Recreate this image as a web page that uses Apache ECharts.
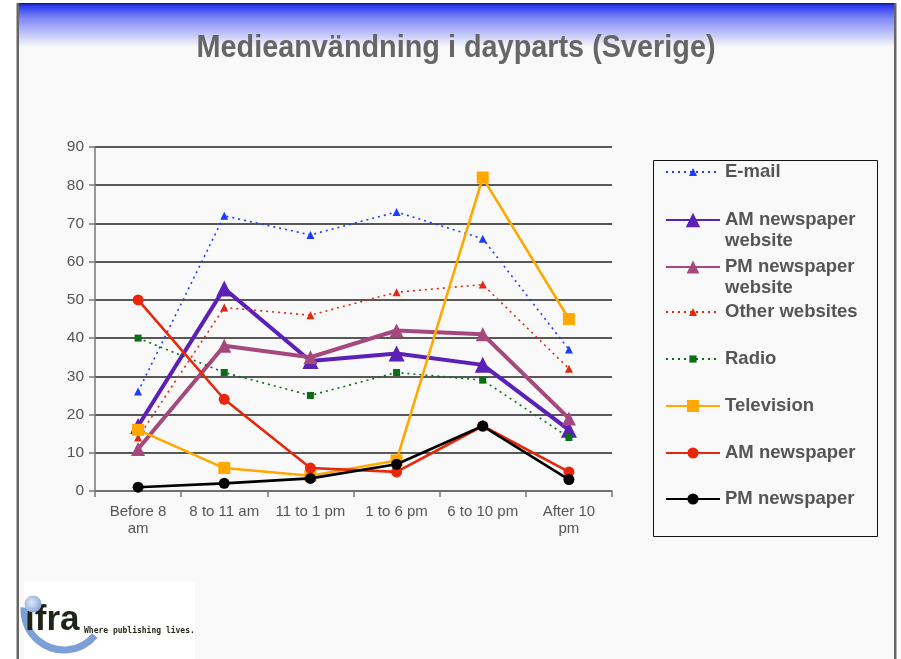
<!DOCTYPE html>
<html>
<head>
<meta charset="utf-8">
<title>Medieanvändning i dayparts (Sverige)</title>
<script src="https://cdn.jsdelivr.net/npm/echarts@6/dist/echarts.min.js"></script>
<style>
    body { margin: 0; background: #fff; }
    #lineCharts { width: 901px; height: 659px; }
</style>
</head>
<body>
<div id="lineCharts"></div>
<script>
// 数据
var categories = ['Before 8\nam', '8 to 11 am', '11 to 1 pm', '1 to 6 pm', '6 to 10 pm', 'After 10\npm'];
var yTicks = [0, 10, 20, 30, 40, 50, 60, 70, 80, 90];

var email = [26, 72, 67, 73, 66, 37];
var amWebsite = [17, 53, 34, 36, 33, 16];
var pmWebsite = [11, 38, 35, 42, 41, 19];
var otherWebsites = [14, 48, 46, 52, 54, 32];
var radio = [40, 31, 25, 31, 29, 14];
var television = [16, 6, 4, 8, 82, 45];
var amNewspaper = [50, 24, 6, 5, 17, 5];
var pmNewspaper = [1, 2, 3.3, 7, 17, 3];

var lineCharts = function () {
    var myChart = echarts.init(document.getElementById('lineCharts'));

    // 每条线的样式
    var lines = [
        {name: 'E-mail', data: email, color: '#1c3cff', width: 1.6, dot: true, symbol: 'triangle', size: 8, legendTop: 161.5, legendH: 10},
        {name: 'AM newspaper website', data: amWebsite, color: '#5a20b8', width: 4, dot: false, symbol: 'triangle', size: 16, legendTop: 188.5, legendH: 18},
        {name: 'PM newspaper website', data: pmWebsite, color: '#a4487e', width: 4, dot: false, symbol: 'triangle', size: 14, legendTop: 235.5, legendH: 16},
        {name: 'Other websites', data: otherWebsites, color: '#dd2a10', width: 1.6, dot: true, symbol: 'triangle', size: 8, legendTop: 301.5, legendH: 10},
        {name: 'Radio', data: radio, color: '#0a6e14', width: 1.6, dot: true, symbol: 'rect', size: 7, legendTop: 348.5, legendH: 9},
        {name: 'Television', data: television, color: '#ffa800', width: 2.6, dot: false, symbol: 'rect', size: 12, legendTop: 395.5, legendH: 15},
        {name: 'AM newspaper', data: amNewspaper, color: '#e8260c', width: 2.6, dot: false, symbol: 'circle', size: 11, legendTop: 442.5, legendH: 14},
        {name: 'PM newspaper', data: pmNewspaper, color: '#000000', width: 2.6, dot: false, symbol: 'circle', size: 11, legendTop: 488.5, legendH: 14}
    ];

    var series = [], legends = [];
    lines.forEach(function (item, i) {
        series.push({
            name: item.name,
            type: 'line',
            data: item.data,
            symbol: item.symbol,
            symbolSize: item.size,
            showAllSymbol: true,
            color: item.color,
            lineStyle: {color: item.color, width: item.width, type: item.dot ? [2, 4] : 'solid'},
            itemStyle: {color: item.color},
            emphasis: {disabled: true},
            z: 2 + i
        });
        legends.push({
            left: 665,
            top: item.legendTop,
            itemWidth: 54,
            itemHeight: item.legendH,
            itemGap: 0,
            padding: 0,
            data: [item.name],
            // 两行的图例：前面加一个空行，让图标对齐第一行
            formatter: function (name) {
                if (/ website$/.test(name)) {
                    return '\n' + name.replace(/ website$/, '\nwebsite');
                }
                return name;
            },
            textStyle: {
                color: '#555',
                fontSize: 18.5,
                fontWeight: 'bold',
                lineHeight: 21,
                fontFamily: 'Liberation Sans, Arial, sans-serif'
            }
        });
    });

    var option = {
        backgroundColor: '#fff',
        animation: false,
        legend: legends,
        grid: {left: 95, right: 289, top: 147, bottom: 168},
        xAxis: [{
            type: 'category',
            data: categories,
            boundaryGap: true,
            axisLine: {lineStyle: {color: '#777', width: 1.5}},
            axisTick: {show: true, length: 6, interval: 0, lineStyle: {color: '#777', width: 1.5}},
            axisLabel: {
                interval: 0,
                margin: 12,
                color: '#555',
                fontSize: 15,
                lineHeight: 17,
                fontFamily: 'Liberation Sans, Arial, sans-serif'
            }
        }],
        yAxis: {
            type: 'value',
            min: yTicks[0],
            max: yTicks[yTicks.length - 1],
            interval: yTicks[1] - yTicks[0],
            axisLine: {show: true, lineStyle: {color: '#777', width: 1.5}},
            axisTick: {show: true, length: 6, lineStyle: {color: '#777', width: 1.5}},
            axisLabel: {
                margin: 11,
                color: '#555',
                fontSize: 15.5,
                fontFamily: 'Liberation Sans, Arial, sans-serif'
            },
            splitLine: {lineStyle: {color: '#222', width: 1.6}}
        },
        graphic: [
            // 幻灯片背景
            {type: 'rect', z: -20, shape: {x: 18, y: 3, width: 877, height: 660}, style: {fill: '#f9f9f9'}},
            {
                type: 'rect', z: -19, shape: {x: 18, y: 3, width: 877, height: 44},
                style: {
                    fill: new echarts.graphic.LinearGradient(0, 0, 0, 1, [
                        {offset: 0, color: '#0a1470'},
                        {offset: 0.06, color: '#2c3af2'},
                        {offset: 0.35, color: '#7f88f6'},
                        {offset: 1, color: '#f9f9f9'}
                    ])
                }
            },
            {type: 'rect', z: -18, shape: {x: 16.5, y: 3, width: 2.5, height: 660}, style: {fill: '#666'}},
            {type: 'rect', z: -18, shape: {x: 894, y: 3, width: 2.5, height: 660}, style: {fill: '#666'}},
            // 标题
            {
                type: 'text', z: 10, x: 456, y: 48, scaleX: 0.93,
                style: {
                    text: 'Medieanvändning i dayparts (Sverige)',
                    align: 'center',
                    verticalAlign: 'middle',
                    fill: '#666',
                    font: 'bold 31px Liberation Sans, Arial, sans-serif'
                }
            },
            // 图例边框
            {type: 'rect', z: -10, shape: {x: 653.5, y: 160.5, width: 224, height: 376}, style: {fill: '#f9f9f9', stroke: '#111', lineWidth: 1}},
            // ifra 标志
            {type: 'rect', z: -10, shape: {x: 24, y: 582, width: 171, height: 80}, style: {fill: '#ffffff'}},
            {type: 'arc', z: -9, shape: {cx: 64, cy: 610, r: 40, startAngle: Math.PI * 0.22, endAngle: Math.PI * 1.02}, style: {stroke: '#7e9fd6', lineWidth: 7, fill: null}},
            {type: 'text', z: -7, style: {text: 'ifra', x: 25, y: 638, verticalAlign: 'bottom', fill: '#1e2418', font: 'bold 35px Liberation Sans, Arial, sans-serif'}},
            {
                type: 'circle', z: -6, shape: {cx: 33, cy: 604, r: 8.5},
                style: {
                    fill: new echarts.graphic.RadialGradient(0.4, 0.4, 0.7, [
                        {offset: 0, color: '#dfe8f6'},
                        {offset: 1, color: '#7e9fd6'}
                    ])
                }
            },
            {type: 'text', z: -7, style: {text: 'Where publishing lives.', x: 84, y: 631, verticalAlign: 'middle', fill: '#1e2418', font: 'bold 8px DejaVu Sans Mono, monospace'}}
        ],
        series: series
    };
    myChart.setOption(option);
};

lineCharts();
</script>
</body>
</html>
